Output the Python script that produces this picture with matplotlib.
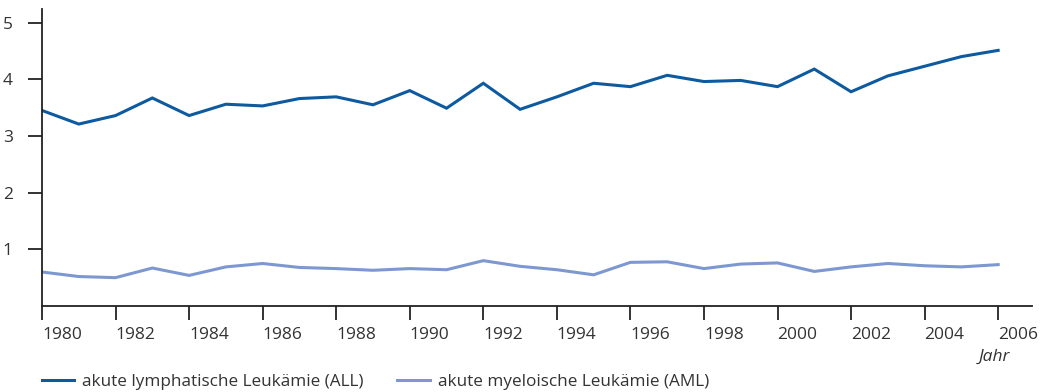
import matplotlib
matplotlib.use("Agg")
import matplotlib.pyplot as plt
from matplotlib.lines import Line2D

# Neuerkrankungen je Jahr (Leukämie bei Kindern)
years = list(range(1980, 2007))
all_rate = [3.45, 3.21, 3.36, 3.67, 3.36, 3.56, 3.53, 3.66, 3.69, 3.55,
            3.80, 3.49, 3.93, 3.47, 3.69, 3.93, 3.87, 4.07, 3.96, 3.98,
            3.87, 4.18, 3.78, 4.06, 4.23, 4.40, 4.51]
aml_rate = [0.60, 0.52, 0.50, 0.67, 0.54, 0.69, 0.75, 0.68, 0.66, 0.63,
            0.66, 0.64, 0.80, 0.70, 0.64, 0.55, 0.77, 0.78, 0.66, 0.74,
            0.76, 0.61, 0.69, 0.75, 0.71, 0.69, 0.73]
x_ticks = list(range(1980, 2007, 2))
y_ticks = [1, 2, 3, 4, 5]
labels = ["akute lymphatische Leukämie (ALL)", "akute myeloische Leukämie (AML)"]

dark = "#0d5aa0"
light = "#7d98d0"
txt = "#333333"

plt.rcParams["font.family"] = ["Open Sans", "DejaVu Sans"]

fig = plt.figure(figsize=(10.51, 3.92), dpi=100)
ax = fig.add_axes([42 / 1051, 86 / 392, 990 / 1051, 297 / 392])

ax.plot(years, all_rate, color=dark, lw=2.2, solid_joinstyle="miter")
ax.plot(years, aml_rate, color=light, lw=2.2, solid_joinstyle="miter")

ax.set_xlim(1980, 2006.92)
ax.set_ylim(0, 5.24)
for s in ("top", "right"):
    ax.spines[s].set_visible(False)
for s in ("left", "bottom"):
    ax.spines[s].set_linewidth(1.3)
    ax.spines[s].set_color("#222222")

ax.set_yticks(y_ticks)
ax.set_xticks(x_ticks)
ax.set_xticklabels([str(y) for y in x_ticks], ha="left")
ax.tick_params(axis="both", length=10, width=1.3, color="#222222",
               labelsize=12.5, labelcolor=txt)
ax.tick_params(axis="y", pad=11)
ax.tick_params(axis="x", pad=5)

ax.text(2005.9, -0.9, "Jahr", style="italic", fontsize=12.5, color=txt,
        ha="center", va="center", clip_on=False)

handles = [Line2D([], [], color=dark, lw=2.2), Line2D([], [], color=light, lw=2.2)]
fig.legend(handles, labels, loc="lower left", bbox_to_anchor=(0.025, -0.035),
           ncol=2, frameon=False, fontsize=12.3, handlelength=1.9,
           handletextpad=0.45, columnspacing=2.0, labelcolor=txt)

fig.savefig("out.png", dpi=100)
